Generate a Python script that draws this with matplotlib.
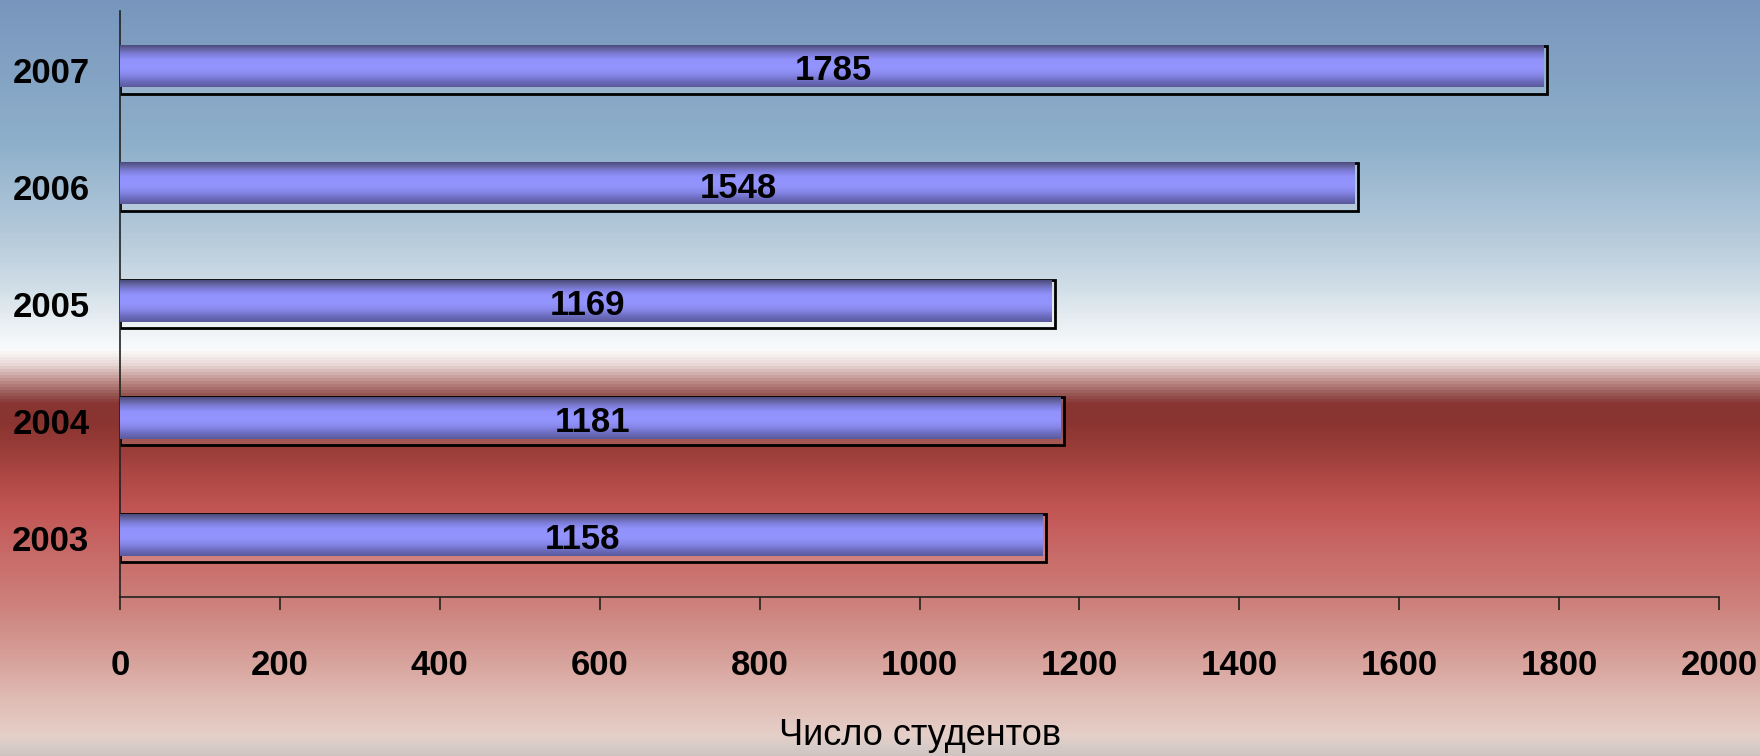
import numpy as np
import matplotlib
matplotlib.use("Agg")
import matplotlib.pyplot as plt
from matplotlib.colors import LinearSegmentedColormap
from matplotlib.patches import Rectangle

# data
years = ["2003", "2004", "2005", "2006", "2007"]
students = [1158, 1181, 1169, 1548, 1785]
x_ticks = [0, 200, 400, 600, 800, 1000, 1200, 1400, 1600, 1800, 2000]
x_label = "Число студентов"

plt.rcParams['font.family'] = ['Liberation Sans', 'DejaVu Sans']

fig = plt.figure(figsize=(17.6, 7.56), dpi=100)

# background gradient (blue sky -> white -> dark red -> pink)
bg_stops = [
    (0.000, "#7896bd"), (0.190, "#8fb0cb"), (0.319, "#b8ccdc"),
    (0.382, "#d2dfe8"), (0.446, "#f3f6f8"), (0.464, "#fbfbfb"),
    (0.484, "#e6d4d2"), (0.503, "#c0908c"), (0.522, "#955450"),
    (0.534, "#883432"), (0.561, "#8a3431"), (0.604, "#a0403c"),
    (0.669, "#c05452"), (0.733, "#c86a68"), (0.796, "#cd7f7a"),
    (0.860, "#d59a94"), (0.923, "#dfbab3"), (0.975, "#e5cfc8"),
    (0.990, "#d8ccc8"), (1.000, "#cfc4c0"),
]
bg_cmap = LinearSegmentedColormap.from_list("bg", bg_stops)
bg_ax = fig.add_axes([0, 0, 1, 1], zorder=-1)
bg_ax.imshow(np.linspace(0, 1, 756).reshape(-1, 1), aspect='auto', cmap=bg_cmap,
             extent=[0, 1, 0, 1], origin='upper')
bg_ax.axis('off')

ax = fig.add_axes([0.0682, 0.2103, 0.9085, 0.7751])
ax.set_facecolor('none')

# bar gradient, bottom -> top
bar_stops = [
    (0.00, "#5a5a9c"), (0.12, "#6a6abc"), (0.28, "#8686e8"),
    (0.45, "#9494ff"), (0.65, "#9292fc"), (0.80, "#7c7cd8"),
    (0.92, "#62629e"), (1.00, "#4c4c80"),
]
bar_cmap = LinearSegmentedColormap.from_list("bar", bar_stops)
grad = np.linspace(0, 1, 64).reshape(-1, 1)

h = 0.41
for i, (yr, v) in enumerate(zip(years, students)):
    # back outline (depth)
    ax.add_patch(Rectangle((0, i - h / 2), v, h, fill=True, facecolor=(1, 1, 1, 0.15),
                           edgecolor='black', lw=2.0, zorder=2))
    # front face with gradient
    ax.imshow(grad, aspect='auto', cmap=bar_cmap, origin='lower',
              extent=[-4, v - 4, i - h / 2 + 0.055, i + h / 2], zorder=3)
    ax.text(v / 2, i - 0.01, str(v), ha='center', va='center', fontsize=25,
            fontweight='bold', color='black', zorder=4)

ax.set_xlim(0, 2000)
ax.set_ylim(-0.5, 4.5)
ax.set_xticks(x_ticks)
ax.set_xticklabels([str(t) for t in x_ticks], fontsize=25, fontweight='bold')
ax.set_yticks(range(len(years)))
ax.set_yticklabels(years, fontsize=25, fontweight='bold')
ax.tick_params(axis='x', direction='out', length=9.5, width=1.2, pad=28, color='#222222')
ax.tick_params(axis='y', length=0, pad=22)
ax.set_xlabel(x_label, fontsize=26, labelpad=26)

for s in ['top', 'right']:
    ax.spines[s].set_visible(False)
for s in ['left', 'bottom']:
    ax.spines[s].set_linewidth(1.2)
    ax.spines[s].set_color('#222222')

fig.savefig("out.png", dpi=100)
